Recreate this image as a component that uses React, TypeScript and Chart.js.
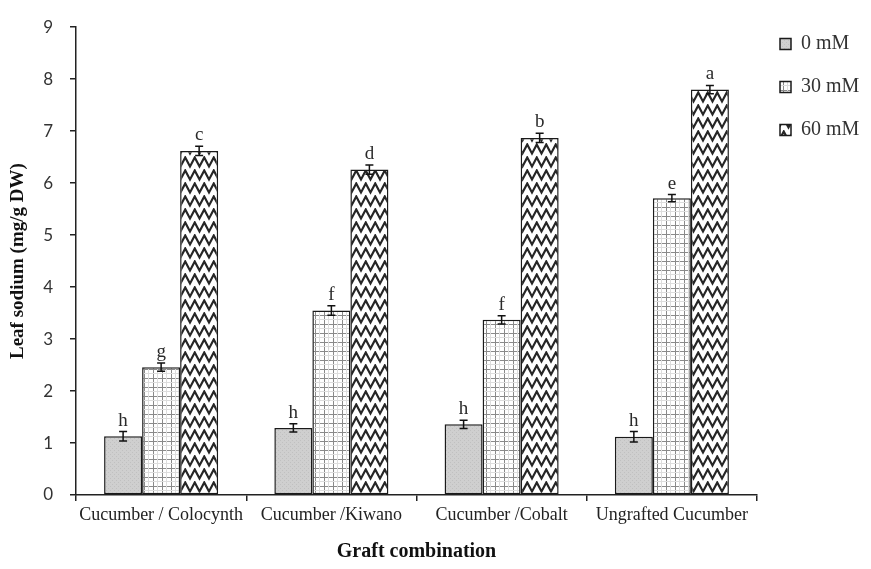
import React, { useEffect, useRef } from "react";
import { Chart, registerables } from "chart.js";

Chart.register(...registerables);

const categories = ["Cucumber / Colocynth", "Cucumber /Kiwano", "Cucumber /Cobalt", "Ungrafted Cucumber"];
const seriesNames = ["0 mM", "30 mM", "60 mM"];
const values0 = [1.13, 1.29, 1.36, 1.12];
const values30 = [2.46, 3.55, 3.37, 5.71];
const values60 = [6.62, 6.26, 6.87, 7.8];
const errors0 = [0.09, 0.08, 0.08, 0.1];
const errors30 = [0.08, 0.09, 0.08, 0.07];
const errors60 = [0.09, 0.09, 0.09, 0.08];
const letters0 = ["h", "h", "h", "h"];
const letters30 = ["g", "f", "f", "e"];
const letters60 = ["c", "d", "b", "a"];
const yMin = 0;
const yMax = 9;
const yStep = 1;

const SERIF = "'Liberation Serif', 'Times New Roman', serif";

function makeGrayPattern(): CanvasPattern | string {
  const c = document.createElement("canvas");
  c.width = 4;
  c.height = 4;
  const g = c.getContext("2d");
  if (!g) return "#d0d0d0";
  g.fillStyle = "#cfcfcf";
  g.fillRect(0, 0, 4, 4);
  g.fillStyle = "#c0c0c0";
  g.fillRect(0, 0, 1, 1);
  g.fillRect(2, 2, 1, 1);
  return g.createPattern(c, "repeat") || "#d0d0d0";
}

function makeGridPattern(): CanvasPattern | string {
  const c = document.createElement("canvas");
  c.width = 9;
  c.height = 9;
  const g = c.getContext("2d");
  if (!g) return "#ffffff";
  g.fillStyle = "#ffffff";
  g.fillRect(0, 0, 9, 9);
  g.fillStyle = "#8a8a8a";
  g.fillRect(0, 0, 9, 1);
  g.fillRect(0, 0, 1, 9);
  g.fillStyle = "#dddddd";
  g.fillRect(4, 0, 1, 9);
  g.fillRect(0, 4, 9, 1);
  return g.createPattern(c, "repeat") || "#ffffff";
}

function makeZigzagPattern(): CanvasPattern | string {
  const w = 9.5;
  const c = document.createElement("canvas");
  c.width = 19;
  c.height = 13;
  const g = c.getContext("2d");
  if (!g) return "#ffffff";
  g.fillStyle = "#ffffff";
  g.fillRect(0, 0, 19, 13);
  g.strokeStyle = "#262626";
  g.lineWidth = 2.2;
  g.beginPath();
  g.moveTo(-w / 2, 1.5);
  for (let i = 0; i < 5; i++) {
    const x0 = -w / 2 + i * w;
    g.lineTo(x0 + w / 2, 10.5);
    g.lineTo(x0 + w, 1.5);
  }
  g.stroke();
  return g.createPattern(c, "repeat") || "#ffffff";
}

const LEGEND_W = 114;

export default function App() {
  const ref = useRef<HTMLCanvasElement | null>(null);

  useEffect(() => {
    if (!ref.current) return;
    const errs = [errors0, errors30, errors60];
    const lets = [letters0, letters30, letters60];

    const legendFix = {
      id: "legendFix",
      afterInit(chart: any) {
        const lg = chart.legend;
        if (lg) {
          const orig = lg.fit.bind(lg);
          lg.fit = () => {
            orig();
            lg.width = LEGEND_W;
          };
        }
      },
      afterLayout(chart: any) {
        const lg = chart.legend;
        if (lg) {
          lg.top -= 10;
          lg.bottom -= 10;
        }
      },
    };

    const errorBars = {
      id: "errorBars",
      afterDatasetsDraw(chart: any) {
        const ctx = chart.ctx;
        const yScale = chart.scales.y;
        ctx.save();
        chart.data.datasets.forEach((ds: any, di: number) => {
          const meta = chart.getDatasetMeta(di);
          meta.data.forEach((bar: any, j: number) => {
            const v = ds.data[j];
            const e = errs[di][j];
            const x = bar.x;
            const yt = yScale.getPixelForValue(v + e);
            const yb = yScale.getPixelForValue(v - e);
            ctx.strokeStyle = "#111";
            ctx.lineWidth = 1.5;
            ctx.beginPath();
            ctx.moveTo(x, yt);
            ctx.lineTo(x, yb);
            ctx.moveTo(x - 4, yt);
            ctx.lineTo(x + 4, yt);
            ctx.moveTo(x - 4, yb);
            ctx.lineTo(x + 4, yb);
            ctx.stroke();
            ctx.fillStyle = "#2a2a2a";
            ctx.font = `19px ${SERIF}`;
            ctx.textAlign = "center";
            ctx.textBaseline = "alphabetic";
            ctx.fillText(lets[di][j], x, yt - 6);
          });
        });
        ctx.restore();
      },
    };

    const chart = new Chart(ref.current, {
      type: "bar",
      data: {
        labels: categories,
        datasets: [
          {
            label: seriesNames[0],
            data: values0,
            backgroundColor: makeGrayPattern() as any,
            borderColor: "#1a1a1a",
            borderWidth: 1.5,
            borderSkipped: false,
          },
          {
            label: seriesNames[1],
            data: values30,
            backgroundColor: makeGridPattern() as any,
            borderColor: "#1a1a1a",
            borderWidth: 1.5,
            borderSkipped: false,
          },
          {
            label: seriesNames[2],
            data: values60,
            backgroundColor: makeZigzagPattern() as any,
            borderColor: "#1a1a1a",
            borderWidth: 1.5,
            borderSkipped: false,
          },
        ],
      },
      options: {
        responsive: false,
        animation: false,
        devicePixelRatio: 1,
        layout: { padding: { top: 21, left: 0, right: 0, bottom: 0 } },
        datasets: { bar: { categoryPercentage: 0.67, barPercentage: 1 } },
        plugins: {
          legend: {
            display: true,
            position: "right",
            align: "start",
            labels: {
              boxWidth: 11,
              boxHeight: 11,
              padding: 23,
              color: "#333",
              font: { family: SERIF, size: 20 },
            },
          },
          tooltip: { enabled: false },
          title: { display: false },
        },
        scales: {
          x: {
            afterFit: (s: any) => {
              s.height = 74;
            },
            grid: {
              display: true,
              drawOnChartArea: false,
              drawTicks: true,
              tickLength: 6,
              color: "#222",
              lineWidth: 1.5,
              offset: true,
            },
            border: { display: true, color: "#222", width: 1.5 },
            ticks: {
              color: "#222",
              font: { family: SERIF, size: 18 },
              padding: 3,
              maxRotation: 0,
              autoSkip: false,
            },
            title: {
              display: true,
              text: "Graft combination",
              color: "#111",
              font: { family: SERIF, size: 20, weight: "bold" },
              padding: { top: 4, bottom: 5 },
            },
          },
          y: {
            min: yMin,
            max: yMax,
            afterFit: (s: any) => {
              s.width = 76;
            },
            grid: {
              display: true,
              drawOnChartArea: false,
              drawTicks: true,
              tickLength: 6,
              color: "#222",
              lineWidth: 1.5,
            },
            border: { display: true, color: "#222", width: 1.5 },
            ticks: {
              stepSize: yStep,
              color: "#333",
              font: { family: "Lato, 'Open Sans', sans-serif", size: 17 },
              padding: 17,
            },
            title: {
              display: true,
              text: "Leaf sodium (mg/g DW)",
              color: "#111",
              font: { family: SERIF, size: 19, weight: "bold" },
              padding: { top: 7, bottom: 0 },
            },
          },
        },
      },
      plugins: [legendFix, errorBars],
    });
    return () => chart.destroy();
  }, []);

  return (
    <div style={{ position: "absolute", left: 0, top: 0, width: 871, height: 569, background: "#fff" }}>
      <canvas ref={ref} width={871} height={569} style={{ display: "block" }} />
    </div>
  );
}
